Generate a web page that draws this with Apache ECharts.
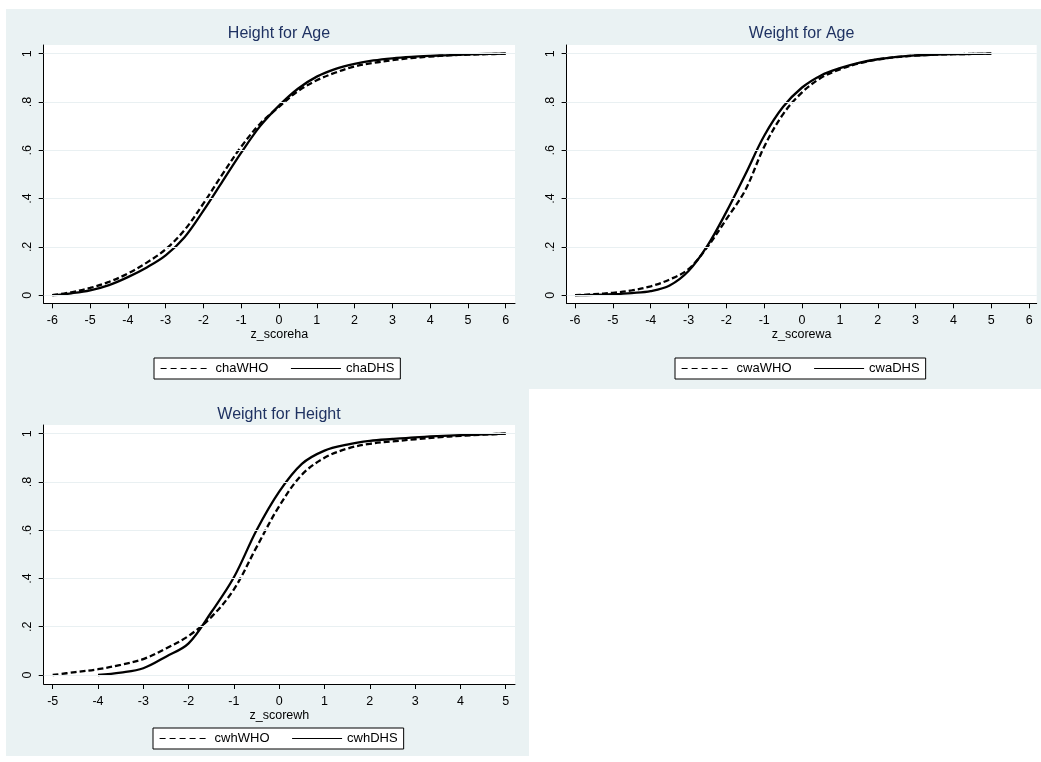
<!DOCTYPE html>
<html><head><meta charset="utf-8">
<script src="https://cdn.jsdelivr.net/npm/echarts@6/dist/echarts.min.js"></script>
<style>html,body{margin:0;padding:0;background:#fff}#c{width:1041px;height:762px}</style>
</head><body><div id="c"></div>
<script>
// ---- data ----
const zHA = [-6,-5.5,-5,-4.5,-4,-3.5,-3,-2.5,-2,-1.5,-1,-0.5,0,0.5,1,1.5,2,2.5,3,3.5,4,4.5,5,5.5,6];
const chaWHO = [0,0.012,0.03,0.055,0.09,0.135,0.19,0.27,0.38,0.50,0.615,0.71,0.78,0.845,0.89,0.922,0.947,0.962,0.973,0.982,0.988,0.993,0.996,0.998,1.0];
const chaDHS = [0,0.008,0.02,0.042,0.075,0.115,0.165,0.24,0.35,0.47,0.59,0.70,0.785,0.855,0.905,0.937,0.958,0.972,0.981,0.987,0.991,0.994,0.997,0.999,1.0];

const zWA = [-6,-5.5,-5,-4.5,-4,-3.5,-3,-2.5,-2,-1.5,-1,-0.5,0,0.5,1,1.5,2,2.5,3,3.5,4,4.5,5];
const cwaWHO = [0,0.004,0.01,0.02,0.037,0.065,0.108,0.2,0.315,0.435,0.615,0.75,0.84,0.9,0.935,0.96,0.976,0.986,0.992,0.996,0.998,0.999,1.0];
const cwaDHS = [0,0.001,0.004,0.009,0.017,0.04,0.1,0.205,0.345,0.5,0.66,0.78,0.86,0.91,0.94,0.962,0.977,0.987,0.993,0.996,0.998,0.999,1.0];

const zWH_WHO = [-5,-4.5,-4,-3.5,-3,-2.5,-2,-1.5,-1,-0.5,0,0.5,1,1.5,2,2.5,3,3.5,4,4.5,5];
const cwhWHO = [0,0.012,0.024,0.042,0.066,0.11,0.162,0.24,0.355,0.53,0.7,0.83,0.9,0.938,0.958,0.968,0.977,0.985,0.991,0.996,1.0];
const zWH_DHS = [-4,-3.5,-3,-2.5,-2,-1.5,-1,-0.5,0,0.5,1,1.5,2,2.5,3,3.5,4,4.5,5];
const cwhDHS = [0,0.01,0.028,0.076,0.131,0.26,0.405,0.6,0.76,0.875,0.93,0.955,0.97,0.978,0.985,0.99,0.994,0.997,1.0];

const xTicks6 = [-6,-5,-4,-3,-2,-1,0,1,2,3,4,5,6];
const xTicks5 = [-5,-4,-3,-2,-1,0,1,2,3,4,5];
const yTicks = [0,0.2,0.4,0.6,0.8,1];

const titles = ['Height for Age','Weight for Age','Weight for Height'];
const xNames = ['z_scoreha','z_scorewa','z_scorewh'];

// ---- helpers ----
const zip = (xs, ys) => xs.map((x,i)=>[x, ys[i]]);
const FONT = '"Liberation Sans", Arial, Helvetica, sans-serif';
const TITLE_C = '#1f3262';
const BG = '#eaf2f3';
const GRID_C = '#e9f0f2';
const yFmt = v => { const r = Math.round(v*10)/10; if (r===0) return '0'; if (r===1) return '1'; return String(r).replace('0.','.'); };

const grids = [
  {left:43.7, top:45, width:471.3, height:258.3},
  {left:566.6, top:45, width:470.1, height:258.3},
  {left:43.7, top:425, width:471.3, height:259}
];
const xr = [[-6.228,6.246],[-6.222,6.2],[-5.199,5.205]];
const yr = [[-0.0335,1.036],[-0.0335,1.036],[-0.0373,1.036]];
const xt = [xTicks6, xTicks6, xTicks5];

const xAxis = grids.map((g,i)=>({
  type:'value', gridIndex:i, min:xr[i][0], max:xr[i][1],
  name:xNames[i], nameLocation:'middle', nameGap:25,
  nameTextStyle:{color:'#000', fontSize:12.5, fontFamily:FONT},
  axisLine:{show:true, onZero:false, lineStyle:{color:'#000', width:1}},
  axisTick:{show:true, length:5, customValues:xt[i], lineStyle:{color:'#000'}},
  axisLabel:{show:true, customValues:xt[i], color:'#000', fontSize:12.5, fontFamily:FONT, margin:11,
    formatter: v => String(Math.round(v))},
  splitLine:{show:false}
}));
const yAxis = grids.map((g,i)=>({
  type:'value', gridIndex:i, min:yr[i][0], max:yr[i][1],
  axisLine:{show:true, onZero:false, lineStyle:{color:'#000', width:1}},
  axisTick:{show:true, length:5, customValues:yTicks, lineStyle:{color:'#000'}},
  axisLabel:{show:true, customValues:yTicks, rotate:90, color:'#000', fontSize:12.5, fontFamily:FONT, margin:10, formatter:yFmt},
  splitLine:{show:false}
}));

const gridLineSeries = (i) => ({
  type:'line', xAxisIndex:i, yAxisIndex:i, data:[], silent:true, z:1,
  markLine:{silent:true, symbol:['none','none'], label:{show:false},
    lineStyle:{color:GRID_C, width:1.2, type:'solid'},
    data: yTicks.map(v=>({yAxis:v}))}
});

const mkLine = (name, i, data, dashed) => ({
  name, type:'line', xAxisIndex:i, yAxisIndex:i, data, symbol:'none', showSymbol:false,
  smooth:0.35, z:3,
  lineStyle:{color:'#000', width:2.3, type: dashed ? [6,3] : 'solid'},
  itemStyle:{color:'#000'}
});

const series = [
  gridLineSeries(0), gridLineSeries(1), gridLineSeries(2),
  mkLine('chaWHO',0,zip(zHA,chaWHO),true),
  mkLine('chaDHS',0,zip(zHA,chaDHS),false),
  mkLine('cwaWHO',1,zip(zWA,cwaWHO),true),
  mkLine('cwaDHS',1,zip(zWA,cwaDHS),false),
  mkLine('cwhWHO',2,zip(zWH_WHO,cwhWHO),true),
  mkLine('cwhDHS',2,zip(zWH_DHS,cwhDHS),false)
];

const hiddenSym = {color:'transparent', borderColor:'transparent', borderWidth:0, opacity:0};
const mkLegend = (left, top, names) => ({
  left, top, orient:'horizontal', itemWidth:50, itemHeight:12, itemGap:22,
  padding:[4,6,4,6], backgroundColor:'#fff', borderColor:'#000', borderWidth:1, borderRadius:0,
  textStyle:{color:'#000', fontSize:13, fontFamily:FONT},
  itemStyle: hiddenSym,
  data:[
    {name:names[0], itemStyle:hiddenSym, lineStyle:{type:[6,4], width:1.2, color:'#000'}},
    {name:names[1], itemStyle:hiddenSym, lineStyle:{type:'solid', width:1.2, color:'#000'}}
  ],
  selectedMode:false
});

const option = {
  animation:false,
  backgroundColor:'#fff',
  graphic:[
    {type:'rect', z:-10, shape:{x:6,y:9,width:1035,height:380}, style:{fill:BG}},
    {type:'rect', z:-10, shape:{x:6,y:389,width:523,height:367}, style:{fill:BG}},
    ...grids.map(g=>({type:'rect', z:-9, shape:{x:g.left,y:g.top,width:g.width,height:g.height}, style:{fill:'#fff'}}))
  ],
  title: [
    {text:titles[0], left:279, top:26},
    {text:titles[1], left:801.6, top:26},
    {text:titles[2], left:279, top:407}
  ].map(t=>Object.assign(t,{textAlign:'center', padding:0,
     textStyle:{color:TITLE_C, fontSize:16, fontWeight:'normal', fontFamily:FONT}})),
  grid: grids,
  xAxis, yAxis,
  legend:[
    mkLegend(154,358,['chaWHO','chaDHS']),
    mkLegend(675,358,['cwaWHO','cwaDHS']),
    mkLegend(153,728,['cwhWHO','cwhDHS'])
  ],
  series
};
const chart = echarts.init(document.getElementById('c'), null, {renderer:'canvas'});
chart.setOption(option);
</script></body></html>
